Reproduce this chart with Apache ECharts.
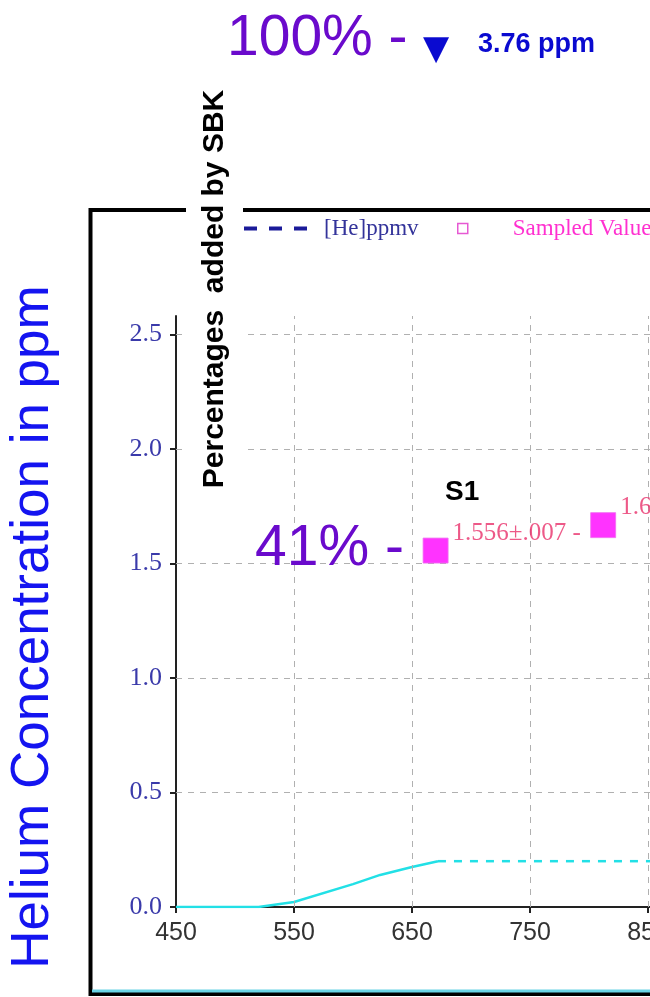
<!DOCTYPE html>
<html>
<head>
<meta charset="utf-8">
<script src="https://cdn.jsdelivr.net/npm/echarts@6/dist/echarts.min.js"></script>
<style>html,body{margin:0;padding:0;background:#fff;}#c{width:650px;height:997px;}</style>
</head>
<body>
<div id="c"></div>
<script>
// ---- data ----
const heX = [450, 520, 550, 600, 623, 650, 672];
const heY = [0, 0, 0.022, 0.1, 0.14, 0.175, 0.2];
const heTailX = [672, 950];
const heTailY = [0.2, 0.2];
const sampledX = [670, 812];
const sampledY = [1.556, 1.667];
const sampledLabels = ['1.556\u00b1.007 -', '1.667\u00b1.007 -'];
const yTicks = [0, 0.5, 1.0, 1.5, 2.0, 2.5];
const xTicks = [450, 550, 650, 750, 850, 950];
const yGrid = [0.5, 1.0, 1.5, 2.0, 2.5];
const xGrid = [550, 650, 750, 850];

const chart = echarts.init(document.getElementById('c'), null, {renderer: 'canvas'});
const gridDash = {color: '#b0b0b0', type: [6, 6], width: 1};

const option = {
  animation: false,
  backgroundColor: '#fff',
  grid: {left: 176, top: 316, width: 590, height: 591, containLabel: false, outerBoundsMode: 'none'},
  xAxis: {
    type: 'value', min: 450, max: 950, interval: 100,
    axisLine: {show: true, onZero: false, lineStyle: {color: '#222', width: 2}},
    axisTick: {show: true, length: 6, lineStyle: {color: '#222', width: 2}},
    axisLabel: {show: true, margin: 14, fontFamily: 'Liberation Sans', fontSize: 25, color: '#333',
      customValues: xTicks},
    splitLine: {show: false}
  },
  yAxis: {
    type: 'value', min: 0, max: 2.58,
    axisLine: {show: true, onZero: false, lineStyle: {color: '#222', width: 2}},
    axisTick: {show: true, length: 6, lineStyle: {color: '#222', width: 2}, customValues: yTicks},
    axisLabel: {show: true, margin: 14, fontFamily: 'Liberation Serif', fontSize: 26, color: '#3a3aaa',
      customValues: yTicks, formatter: v => v.toFixed(1)},
    splitLine: {show: false}
  },
  legend: [
    {data: [{name: '[He]ppmv', icon: 'path://M0,0h13v4h-13z M25,0h13v4h-13z M50,0h13v4h-13z',
        itemStyle: {color: '#1a1a99'}}],
      left: 244, top: 217, itemWidth: 63, itemHeight: 4, padding: 0,
      textStyle: {fontFamily: 'Liberation Serif', fontSize: 23, color: '#33339a', padding: [0, 0, 0, 12]}},
    {data: [{name: 'Sampled Values', icon: 'rect'}], left: 457, top: 217, itemWidth: 10, itemHeight: 10, padding: 0,
      itemStyle: {color: '#fff', borderColor: '#e030c8', borderWidth: 1.5},
      textStyle: {fontFamily: 'Liberation Serif', fontSize: 23, color: '#ff30d0', padding: [0, 0, 0, 40]}}
  ],
  series: [
    {
      name: '[He]ppmv', type: 'line', symbol: 'none', data: [],
      itemStyle: {color: '#1a1a99'},
      lineStyle: {color: '#1a1a99', type: [12, 10], width: 3}
    },
    {
      name: 'heSolid', type: 'line', symbol: 'none', z: 3,
      data: heX.map((x, i) => [x, heY[i]]),
      lineStyle: {color: '#22e0e6', width: 2.5},
      markLine: {
        silent: true, symbol: 'none', label: {show: false}, lineStyle: gridDash, animation: false,
        data: yGrid.map(v => ({yAxis: v})).concat(xGrid.map(v => ({xAxis: v})))
      }
    },
    {
      name: 'heTail', type: 'line', symbol: 'none', z: 3,
      data: heTailX.map((x, i) => [x, heTailY[i]]),
      lineStyle: {color: '#22e0e6', width: 2.5, type: [8, 8]}
    },
    {
      name: 'Sampled Values', type: 'scatter', symbol: 'rect', symbolSize: 25, z: 5,
      data: sampledX.map((x, i) => [x, sampledY[i]]),
      itemStyle: {color: '#ff00ff', borderColor: '#f070f0', borderWidth: 1},
      label: {
        show: true, position: [30, -17], align: 'left', verticalAlign: 'top',
        fontFamily: 'Liberation Serif', fontSize: 25, color: '#e8306a',
        formatter: p => sampledLabels[p.dataIndex]
      }
    }
  ],
  graphic: [
    {type: 'rect', z: 50, shape: {x: 90.5, y: 210, width: 700, height: 784},
      style: {fill: 'none', stroke: '#000', lineWidth: 4}},
    {type: 'line', z: 51, shape: {x1: 92, y1: 991, x2: 650, y2: 991},
      style: {stroke: '#6ad4e6', lineWidth: 3}},
    {type: 'rect', z: 60, shape: {x: 186, y: 60, width: 57, height: 450},
      style: {fill: '#fff'}},
    {type: 'text', z: 61, x: 215, y: 289, rotation: Math.PI / 2,
      style: {text: 'Percentages  added by SBK', font: 'bold 30px "Liberation Sans"', fill: '#000',
        align: 'center', verticalAlign: 'middle'}},
    {type: 'text', z: 61, x: 33, y: 627, rotation: Math.PI / 2,
      style: {text: 'Helium Concentration in ppm', font: '53px "Liberation Sans"', fill: '#1414f0',
        align: 'center', verticalAlign: 'middle'}},
    {type: 'text', z: 61, x: 227, y: 39,
      style: {text: '100% -', font: '57px "Liberation Sans"', fill: '#6a0acc',
        align: 'left', verticalAlign: 'middle'}},
    {type: 'text', z: 61, x: 436, y: 50,
      style: {text: '\u25bc', font: '34px "DejaVu Sans"', fill: '#0a0ad0',
        align: 'center', verticalAlign: 'middle'}},
    {type: 'text', z: 61, x: 478, y: 45,
      style: {text: '3.76 ppm', font: 'bold 27px "Liberation Sans"', fill: '#0a0ad0',
        align: 'left', verticalAlign: 'middle'}},
    {type: 'text', z: 61, x: 445, y: 492,
      style: {text: 'S1', font: 'bold 28px "Liberation Sans"', fill: '#000',
        align: 'left', verticalAlign: 'middle'}},
    {type: 'text', z: 61, x: 255, y: 549,
      style: {text: '41% -', font: '57px "Liberation Sans"', fill: '#6a0acc',
        align: 'left', verticalAlign: 'middle'}}
  ]
};
chart.setOption(option);
</script>
</body>
</html>
